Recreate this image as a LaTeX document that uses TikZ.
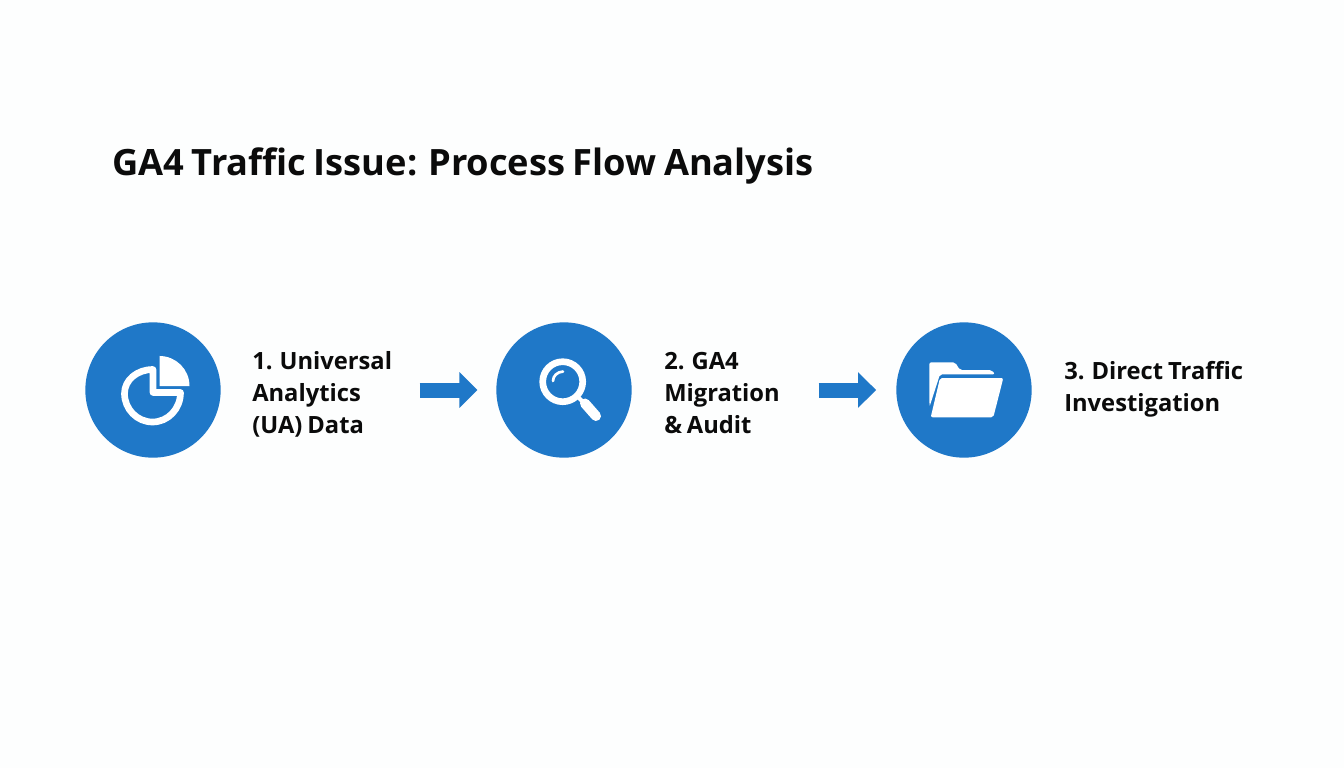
\documentclass[tikz,border=0pt]{standalone}
\usepackage{fontspec}
\setmainfont{Open Sans}[WordSpace=0.8]
\usetikzlibrary{arrows.meta}
\definecolor{flowblue}{HTML}{1F78C8}
\definecolor{pagewhite}{HTML}{FDFEFE}
\definecolor{inkblack}{HTML}{0B0B0B}
\begin{document}
\begin{tikzpicture}[
        x=0.75pt, y=-0.75pt,
        step circle/.style={circle, fill=flowblue, minimum size=101.5pt, inner sep=0pt},
        step label/.style={anchor=west, inner sep=0pt, align=left, text=inkblack,
            font=\fontsize{17.8}{24}\selectfont\bfseries},
        flow arrow/.style={flowblue, line width=11.25pt, -{Triangle[length=13.5pt, width=26pt]}},
        icon line/.style={white, line width=5pt},
        icon fill/.style={fill=white, rounded corners=1.5pt}
        ]
        % Page
        \fill[pagewhite] (0,0) rectangle (1344,768);
        \useasboundingbox (0,0) rectangle (1344,768);
        % Title
        \node(title)[anchor=west, inner sep=0pt, text=inkblack,
            font=\fontsize{27.2}{32}\selectfont\bfseries] at (112,166)
            {GA4 Traffic Issue: Process Flow Analysis};
        % Circles
        \node(first)[step circle] at (153,390) {};
        \node(second)[step circle] at (564,390) {};
        \node(third)[step circle] at (964,390) {};
        % Labels
        \node(firstlabel)[step label] at (252,394) {1. Universal\\Analytics\\(UA) Data};
        \node(secondlabel)[step label] at (664,393) {2. GA4\\Migration\\\& Audit};
        \node(thirdlabel)[step label] at (1064,389) {3. Direct Traffic\\Investigation};
        % Arrows
        \draw[flow arrow, shorten <=20.5pt, shorten >=14pt] (firstlabel.east |- first) -- (second);
        \draw[flow arrow, shorten <=29pt, shorten >=15pt] (secondlabel.east |- second) -- (third);
        % Pie icon
        \draw[icon line, line join=round] (153,369.5) .. controls (137,369.5) and (124.5,380) .. (124.5,393.5)
            .. controls (124.5,409) and (137,422) .. (152.5,422)
            .. controls (168,422) and (180.5,409) .. (180.5,392.5) -- (153,392.5) -- cycle;
        \fill[white] (159.5,355.5) -- (159.5,386) -- (189.5,386) arc (0:-90:30) -- cycle;
        % Lens icon
        \draw[white, line width=5pt] (562.7,381.7) circle (20);
        \draw[white, line width=2pt, line cap=round] (553,381) .. controls (553,376) and (557,372) .. (563,371.5);
        \draw[white, line width=3pt] (577,396) -- (586,405);
        \draw[white, line width=7.5pt, line cap=round] (585,403.5) -- (596,416);
        % Folder icon
        \fill[icon fill] (929.3,362.3) -- (955,362.3) -- (960,370) -- (991.7,370) -- (995,374.3)
            -- (940,374.3) -- (929.5,406.7) -- cycle;
        \fill[icon fill] (940,378) -- (1003.3,378) -- (993.3,417.3) -- (930.7,417.3) -- cycle;
    \end{tikzpicture}
\end{document}
